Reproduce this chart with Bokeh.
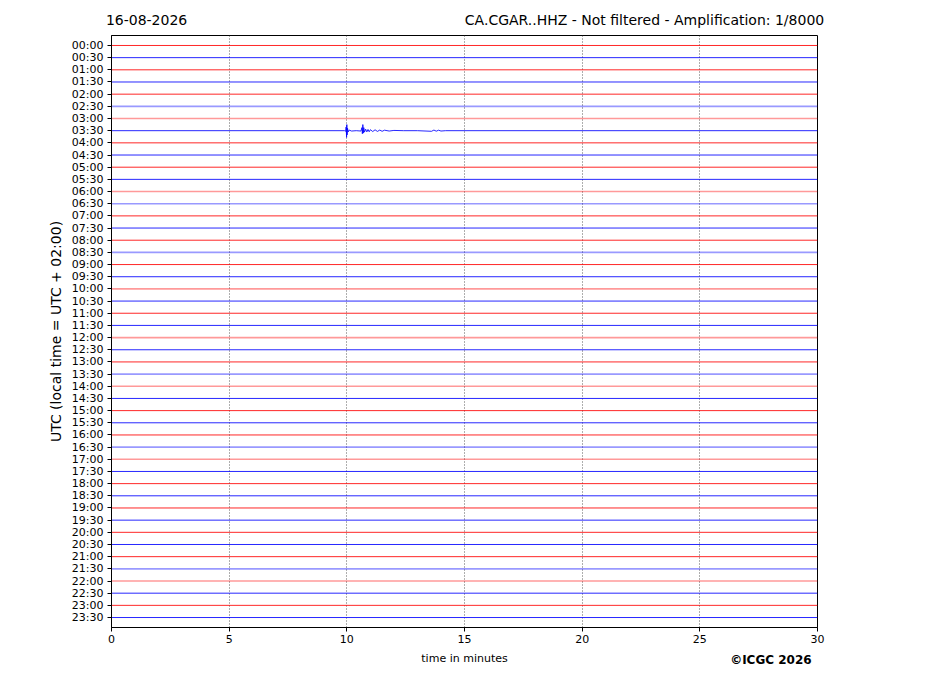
from bokeh.embed import file_html
from bokeh.models import ColumnDataSource, FixedTicker, LinearAxis, Range1d
from bokeh.plotting import figure
from bokeh.resources import INLINE

# One helicorder row per half hour, 30 minutes wide
row_labels = [f"{h:02d}:{m:02d}" for h in range(24) for m in (0, 30)]
row_colors = ["red", "blue"] * 24
# rows that look noisier (paler, thicker) on the drum
noisy_rows = ["02:30", "03:00", "06:00", "06:30", "08:30", "10:00", "12:00",
              "13:30", "14:00", "16:30", "17:00", "21:30", "22:00"]

# Local event in the 03:30 row: time (min) and deflection (row units, + = down)
event_row = "03:30"
event_t = [0.0, 9.90, 9.95, 9.97, 9.99, 10.00, 10.01, 10.03, 10.06, 10.10, 10.20,
           10.40, 10.60, 10.64, 10.66, 10.68, 10.70, 10.72, 10.75, 10.80, 10.85,
           10.90, 10.95, 11.00, 11.10, 11.20, 11.30, 11.40, 11.50, 11.60, 11.80,
           12.00, 12.40, 13.00, 13.60, 13.70, 13.80, 13.90, 14.00, 14.20, 30.0]
event_a = [0.0, 0.0, 0.05, -0.30, 0.55, -0.50, 0.35, -0.20, 0.10, -0.05, 0.03,
           0.0, 0.03, -0.25, 0.25, -0.50, 0.20, -0.25, 0.12, -0.12, 0.10,
           -0.10, 0.09, -0.08, 0.07, -0.07, 0.06, -0.05, 0.05, -0.04, 0.03,
           -0.02, 0.0, 0.0, 0.05, -0.05, 0.04, -0.04, 0.03, 0.0, 0.0]

x_ticks = [0, 5, 10, 15, 20, 25, 30]

# header / footer texts, centred at these minute positions of the frame
date_text = "16-08-2026"
station_text = "CA.CGAR..HHZ - Not filtered - Amplification: 1/8000"
copyright_text = "©ICGC 2026"
header_pos = {1.49: date_text, 22.65: station_text}
footer_pos = {28.02: copyright_text}

FONT = "DejaVu Sans"

p = figure(
    width=911, height=680,
    x_range=Range1d(0, 30), y_range=Range1d(47.82, -0.82),
    output_backend="svg", toolbar_location=None,
    min_border_left=111, min_border_right=94, min_border_top=35, min_border_bottom=53,
    x_axis_label="time in minutes",
    y_axis_label="UTC (local time = UTC + 02:00)",
)
p.outline_line_color = "black"
p.outline_line_width = 1
p.background_fill_color = "white"

# traces
for i, lab in enumerate(row_labels):
    if lab == event_row:
        xs = event_t
        ys = [i + a for a in event_a]
    else:
        xs = [0, 30]
        ys = [i, i]
    noisy = lab in noisy_rows
    src = ColumnDataSource(data=dict(x=xs, y=ys))
    p.line("x", "y", source=src, line_color=row_colors[i],
           line_width=1.6 if noisy else 1.0, line_alpha=0.4 if noisy else 0.85)

# axes
p.xaxis.ticker = FixedTicker(ticks=x_ticks)
p.yaxis.ticker = FixedTicker(ticks=list(range(48)))
p.yaxis.major_label_overrides = {i: lab for i, lab in enumerate(row_labels)}
for ax in (p.xaxis, p.yaxis):
    ax.minor_tick_line_color = None
    ax.major_tick_out = 4
    ax.major_tick_in = 0
    ax.major_label_text_font = FONT
    ax.major_label_text_font_size = "11px"
    ax.major_label_text_color = "black"
    ax.axis_line_color = "black"
    ax.major_tick_line_color = "black"
    ax.axis_label_text_font = FONT
    ax.axis_label_text_font_style = "normal"
    ax.axis_label_text_color = "black"
p.yaxis.major_label_standoff = 4
p.yaxis.axis_label_text_font_size = "14px"
p.yaxis.axis_label_standoff = 5
p.xaxis.major_label_standoff = 3
p.xaxis.axis_label_text_font_size = "11px"
p.xaxis.axis_label_standoff = 6

p.xgrid.ticker = FixedTicker(ticks=x_ticks)
p.xgrid.grid_line_color = "#333333"
p.xgrid.grid_line_dash = "1 2"
p.xgrid.grid_line_width = 0.8
p.ygrid.grid_line_color = None

# header line: an invisible axis above the frame carrying the two titles
header = LinearAxis(ticker=FixedTicker(ticks=list(header_pos)),
                    major_label_overrides=header_pos,
                    axis_line_color=None, major_tick_line_color=None,
                    minor_tick_line_color=None, major_tick_out=0,
                    major_label_standoff=8, major_label_text_font=FONT,
                    major_label_text_font_size="14px", major_label_text_color="black")
p.add_layout(header, "above")

# footer: copyright, pulled up onto the x-axis label line
footer = LinearAxis(ticker=FixedTicker(ticks=list(footer_pos)),
                    major_label_overrides=footer_pos,
                    axis_line_color=None, major_tick_line_color=None,
                    minor_tick_line_color=None, major_tick_out=0,
                    major_label_standoff=-15, major_label_text_font=FONT,
                    major_label_text_font_size="12px", major_label_text_font_style="bold",
                    major_label_text_color="black")
p.add_layout(footer, "below")

open("out.html", "w").write(file_html(p, INLINE))
